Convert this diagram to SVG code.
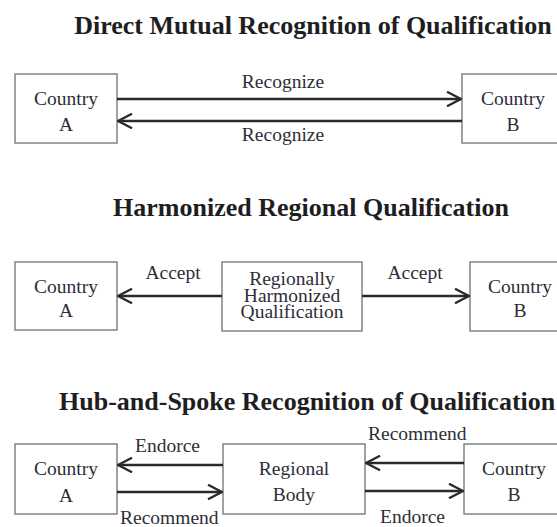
<svg xmlns="http://www.w3.org/2000/svg" width="557" height="527" viewBox="0 0 557 527">
  <style>
    .title { font-family: "Liberation Serif", "Times New Roman", serif; font-weight: bold; font-size: 26px; fill: #1e1e22; }
    .lbl { font-family: "Liberation Serif", "Times New Roman", serif; font-size: 19.5px; fill: #2e2e38; }
    .mid { text-anchor: middle; }
    .box { fill: #ffffff; stroke: #7a7a7a; stroke-width: 1.4; }
    .arr { stroke: #2a2a2a; stroke-width: 2.6; fill: none; marker-end: url(#chev); }
  </style>
  <defs>
    <marker id="chev" viewBox="0 0 16 16" markerWidth="16" markerHeight="16" refX="15" refY="8" orient="auto" markerUnits="userSpaceOnUse">
      <path d="M1,0.8 L15,8 L1,15.2" fill="none" stroke="#2a2a2a" stroke-width="2.4"/>
    </marker>
  </defs>
  <rect width="557" height="527" fill="#ffffff"/>

  <!-- Section 1: direct mutual recognition -->
  <text class="title mid" x="313" y="34">Direct Mutual Recognition of Qualification</text>
  <g id="s1-country-a">
    <rect class="box" x="15" y="74" width="102" height="69"/>
    <text class="lbl mid" x="66" y="105">Country</text>
    <text class="lbl mid" x="66" y="131">A</text>
  </g>
  <g id="s1-country-b">
    <rect class="box" x="462" y="74" width="102" height="69"/>
    <text class="lbl mid" x="513" y="105">Country</text>
    <text class="lbl mid" x="513" y="131">B</text>
  </g>
  <g id="s1-connectors">
    <line class="arr" x1="117" y1="99" x2="461" y2="99"/>
    <line class="arr" x1="462" y1="121" x2="118" y2="121"/>
    <text class="lbl mid" x="283" y="88">Recognize</text>
    <text class="lbl mid" x="283" y="141">Recognize</text>
  </g>

  <!-- Section 2: harmonized regional qualification -->
  <text class="title mid" x="311" y="216">Harmonized Regional Qualification</text>
  <g id="s2-country-a">
    <rect class="box" x="15" y="262" width="102" height="68"/>
    <text class="lbl mid" x="66" y="293">Country</text>
    <text class="lbl mid" x="66" y="317">A</text>
  </g>
  <g id="s2-harmonized">
    <rect class="box" x="222" y="262" width="140" height="69"/>
    <text class="lbl mid" x="292" y="285">Regionally</text>
    <text class="lbl mid" x="292" y="302">Harmonized</text>
    <text class="lbl mid" x="292" y="318">Qualification</text>
  </g>
  <g id="s2-country-b">
    <rect class="box" x="470" y="262" width="102" height="69"/>
    <text class="lbl mid" x="520" y="293">Country</text>
    <text class="lbl mid" x="520" y="317">B</text>
  </g>
  <g id="s2-connectors">
    <line class="arr" x1="222" y1="296" x2="118" y2="296"/>
    <line class="arr" x1="362" y1="296" x2="469" y2="296"/>
    <text class="lbl mid" x="173" y="279">Accept</text>
    <text class="lbl mid" x="415" y="279">Accept</text>
  </g>

  <!-- Section 3: hub-and-spoke recognition -->
  <text class="title" x="59" y="410">Hub-and-Spoke Recognition of Qualification</text>
  <g id="s3-country-a">
    <rect class="box" x="15" y="444" width="102" height="70"/>
    <text class="lbl mid" x="66" y="475">Country</text>
    <text class="lbl mid" x="66" y="502">A</text>
  </g>
  <g id="s3-regional-body">
    <rect class="box" x="223" y="444" width="142" height="70"/>
    <text class="lbl mid" x="294" y="475">Regional</text>
    <text class="lbl mid" x="294" y="501">Body</text>
  </g>
  <g id="s3-country-b">
    <rect class="box" x="464" y="444" width="102" height="70"/>
    <text class="lbl mid" x="514" y="475">Country</text>
    <text class="lbl mid" x="514" y="501">B</text>
  </g>
  <g id="s3-connectors">
    <line class="arr" x1="223" y1="465" x2="118" y2="465"/>
    <line class="arr" x1="117" y1="492" x2="222" y2="492"/>
    <line class="arr" x1="464" y1="463" x2="366" y2="463"/>
    <line class="arr" x1="365" y1="491" x2="463" y2="491"/>
    <text class="lbl" x="135" y="452">Endorce</text>
    <text class="lbl" x="120" y="524">Recommend</text>
    <text class="lbl" x="368" y="440">Recommend</text>
    <text class="lbl" x="380" y="523">Endorce</text>
  </g>
</svg>
